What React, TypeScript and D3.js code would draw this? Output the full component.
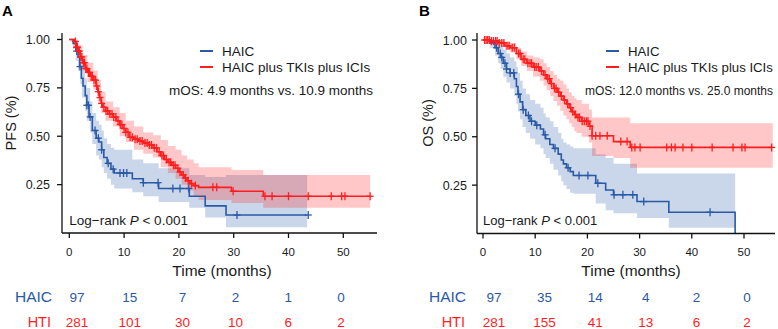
import * as d3 from 'd3';

// ── Kaplan–Meier steps: [time (months), survival] ──

const PFS_HAIC: [number, number][] = [
  [0, 1], [0.7, 0.98], [1.2, 0.94], [1.6, 0.91], [1.9, 0.86], [2.2, 0.8], [2.5, 0.76],
  [2.9, 0.71], [3.2, 0.66], [3.6, 0.6], [4.2, 0.53], [4.9, 0.49], [5.4, 0.47], [5.9, 0.43],
  [6.3, 0.39], [6.9, 0.36], [7.6, 0.33], [8.2, 0.31], [11.5, 0.28], [13.5, 0.26],
  [16.3, 0.23], [21.9, 0.19], [24.8, 0.14], [28.6, 0.093],
];
const PFS_HAIC_END = 43.4;
const PFS_HAIC_CENS = [
  1.35, 1.95, 3.2, 3.5, 3.8, 4.7, 5.3, 5.9, 7.1, 8.0, 9.25, 9.9, 10.5, 13.5, 16.2, 18.9,
  20.2, 21.8, 30.6, 43.6,
];
// [time, lower, upper]
const PFS_HAIC_CI: [number, number, number][] = [
  [0, 1, 1], [0.7, 0.95, 1], [1.2, 0.89, 0.99], [1.6, 0.84, 0.96], [2.0, 0.77, 0.92],
  [2.3, 0.7, 0.88], [2.9, 0.63, 0.8], [3.2, 0.58, 0.75], [3.8, 0.52, 0.68], [4.2, 0.46, 0.62],
  [4.9, 0.4, 0.58], [5.4, 0.38, 0.56], [5.9, 0.34, 0.53], [6.3, 0.31, 0.49], [6.9, 0.28, 0.46],
  [7.6, 0.25, 0.44], [8.2, 0.23, 0.43], [11.5, 0.21, 0.38], [13.5, 0.19, 0.36],
  [16.3, 0.16, 0.335], [21.9, 0.13, 0.3], [24.8, 0.08, 0.29], [28.6, 0.03, 0.3],
];

const PFS_HTI: [number, number][] = [
  [0, 1], [1.0, 0.99], [1.3, 0.96], [1.6, 0.94], [2.0, 0.91], [2.4, 0.88], [2.9, 0.85],
  [3.3, 0.83], [3.8, 0.81], [4.4, 0.79], [4.9, 0.76], [5.2, 0.73], [5.5, 0.7], [5.8, 0.67],
  [6.1, 0.65], [6.6, 0.63], [7.3, 0.615], [8.0, 0.6], [8.6, 0.58], [9.2, 0.56], [9.8, 0.54],
  [10.3, 0.52], [10.9, 0.495], [11.8, 0.485], [12.6, 0.475], [13.5, 0.465], [14.5, 0.455],
  [15.3, 0.44], [16.0, 0.42], [16.7, 0.4], [17.4, 0.38], [18.0, 0.365], [18.7, 0.35],
  [19.4, 0.335], [20.0, 0.315], [20.5, 0.3], [21.0, 0.285], [21.5, 0.27], [22.0, 0.255],
  [22.7, 0.245], [23.6, 0.236], [29.6, 0.216], [35.4, 0.19],
];
const PFS_HTI_END = 54.9;
const PFS_HTI_CENS = [
  1.1, 1.3, 1.5, 1.7, 1.8, 2.1, 2.3, 2.6, 2.8, 3.0, 3.2, 3.5, 3.7, 4.0, 4.2, 4.5, 4.8, 5.0,
  5.3, 5.6, 5.9, 6.3, 6.7, 7.0, 7.4, 7.8, 8.1, 8.5, 8.9, 9.3, 9.6, 10.0, 10.3, 10.7, 11.1,
  11.5, 12.0, 12.4, 12.9, 13.3, 13.8, 14.2, 14.6, 15.0, 15.5, 15.9, 16.4, 16.9, 17.2, 17.7,
  18.2, 18.5, 19.0, 19.3, 19.8, 20.2, 20.8, 21.2, 21.7, 22.3, 23.0, 26.2, 26.9, 29.9, 35.7,
  37.0, 40.0, 43.6, 47.8, 49.7, 50.3, 54.9,
];
const PFS_HTI_CI: [number, number, number][] = [
  [0, 1, 1], [1.0, 0.97, 1], [1.6, 0.91, 0.97], [2.4, 0.84, 0.92], [3.3, 0.78, 0.88],
  [4.4, 0.74, 0.84], [5.2, 0.68, 0.79], [5.8, 0.62, 0.73], [6.6, 0.58, 0.68], [8.0, 0.55, 0.65],
  [9.2, 0.5, 0.62], [10.3, 0.47, 0.58], [11.8, 0.43, 0.55], [13.5, 0.41, 0.52],
  [15.3, 0.39, 0.505], [16.7, 0.34, 0.48], [18.0, 0.31, 0.45], [19.4, 0.28, 0.43],
  [20.5, 0.25, 0.4], [21.5, 0.22, 0.38], [22.7, 0.19, 0.36], [23.6, 0.17, 0.34],
  [29.6, 0.155, 0.325], [35.4, 0.13, 0.3],
];

const OS_HAIC: [number, number][] = [
  [0, 1], [1.3, 0.985], [2.3, 0.96], [2.9, 0.93], [3.4, 0.91], [3.9, 0.88], [4.5, 0.85],
  [5.2, 0.83], [6.0, 0.8], [6.4, 0.76], [6.7, 0.72], [7.1, 0.68], [7.6, 0.64], [8.2, 0.61],
  [9.0, 0.58], [10.0, 0.56], [11.0, 0.54], [11.6, 0.51], [12.0, 0.49], [12.8, 0.46],
  [13.5, 0.44], [14.4, 0.41], [15.0, 0.38], [15.4, 0.36], [16.0, 0.34], [16.7, 0.32],
  [17.3, 0.3], [21.6, 0.26], [23.5, 0.225], [25.0, 0.2], [29.5, 0.165], [35.6, 0.11], [48.3, 0],
];
const OS_HAIC_END = 48.3;
const OS_HAIC_CENS = [
  2.6, 3.3, 3.6, 4.2, 4.5, 5.2, 5.9, 6.8, 7.7, 8.7, 9.3, 10.3, 11.9, 13.8, 16.3, 18.4, 20.1,
  22.0, 25.1, 26.8, 28.7, 30.8, 43.5,
];
const OS_HAIC_CI: [number, number, number][] = [
  [0, 1, 1], [1.3, 0.96, 1], [2.3, 0.92, 1], [2.9, 0.88, 0.98], [3.4, 0.85, 0.97],
  [3.9, 0.81, 0.95], [4.5, 0.78, 0.93], [5.2, 0.75, 0.91], [6.0, 0.71, 0.89], [6.4, 0.67, 0.86],
  [6.7, 0.63, 0.83], [7.1, 0.59, 0.79], [7.6, 0.55, 0.75], [8.2, 0.52, 0.72], [9.0, 0.49, 0.69],
  [10.0, 0.46, 0.67], [11.0, 0.44, 0.65], [11.6, 0.41, 0.62], [12.0, 0.39, 0.6],
  [12.8, 0.36, 0.58], [13.5, 0.33, 0.55], [14.4, 0.3, 0.52], [15.0, 0.27, 0.49],
  [15.4, 0.25, 0.47], [16.0, 0.23, 0.46], [16.7, 0.21, 0.45], [17.3, 0.205, 0.44],
  [21.6, 0.155, 0.41], [23.5, 0.12, 0.39], [25.0, 0.105, 0.36], [29.5, 0.08, 0.31],
  [35.6, 0.03, 0.31],
];

const OS_HTI: [number, number][] = [
  [0, 1], [1.5, 0.995], [3.0, 0.985], [4.2, 0.97], [5.2, 0.96], [6.4, 0.93], [7.3, 0.9],
  [8.4, 0.88], [9.6, 0.86], [10.9, 0.84], [11.6, 0.82], [12.2, 0.8], [12.9, 0.775],
  [13.5, 0.75], [14.2, 0.73], [14.8, 0.71], [15.4, 0.69], [16.0, 0.67], [16.5, 0.65],
  [17.0, 0.63], [17.5, 0.615], [17.9, 0.6], [18.9, 0.58], [20.3, 0.555], [20.9, 0.505],
  [25.0, 0.475], [28.2, 0.445],
];
const OS_HTI_END = 55.5;
const OS_HTI_CENS = [
  0.3, 0.6, 0.9, 1.2, 1.6, 2.0, 2.4, 2.7, 3.1, 3.6, 4.0, 4.6, 5.0, 5.6, 6.0, 6.8, 7.1, 7.7,
  8.0, 8.6, 9.0, 9.3, 9.9, 10.2, 10.6, 11.2, 11.9, 12.4, 12.7, 13.1, 13.7, 14.0, 14.5, 15.0,
  15.6, 16.2, 16.8, 17.2, 17.7, 18.2, 18.5, 19.0, 19.4, 19.8, 20.1, 20.5, 20.9, 21.6, 22.4,
  23.8, 26.4, 27.6, 28.5, 29.1, 30.1, 35.2, 36.1, 36.8, 38.3, 40.0, 43.9, 47.9, 49.6, 50.2,
  55.3,
];
const OS_HTI_CI: [number, number, number][] = [
  [0, 1, 1], [1.5, 0.985, 1], [3.0, 0.97, 1], [4.2, 0.95, 0.99], [5.2, 0.935, 0.985],
  [6.4, 0.9, 0.96], [7.3, 0.865, 0.94], [8.4, 0.84, 0.92], [9.6, 0.81, 0.91], [10.9, 0.79, 0.9],
  [11.6, 0.765, 0.88], [12.2, 0.74, 0.86], [12.9, 0.71, 0.84], [13.5, 0.685, 0.82],
  [14.2, 0.66, 0.8], [14.8, 0.635, 0.79], [15.4, 0.61, 0.77], [16.0, 0.59, 0.75],
  [16.5, 0.57, 0.73], [17.0, 0.55, 0.71], [17.5, 0.53, 0.7], [17.9, 0.52, 0.69],
  [18.9, 0.5, 0.67], [20.3, 0.47, 0.64], [20.9, 0.4, 0.6], [25.0, 0.39, 0.6], [28.2, 0.34, 0.57],
];

// ── Axis ticks and numbers at risk ──

const X_TICKS = [0, 10, 20, 30, 40, 50];
const Y_TICKS = [0.25, 0.5, 0.75, 1.0];
const PFS_RISK_HAIC = [97, 15, 7, 2, 1, 0];
const PFS_RISK_HTI = [281, 101, 30, 10, 6, 2];
const OS_RISK_HAIC = [97, 35, 14, 4, 2, 0];
const OS_RISK_HTI = [281, 155, 41, 13, 6, 2];

const BLUE = '#2a5aa6';
const RED = '#ff1e1e';
const INK = '#1a1a1a';
const FONT = "'Liberation Sans', Arial, sans-serif";

type Step = [number, number];
type Band = [number, number, number];

interface Curve {
  steps: Step[];
  end: number;
  cens: number[];
  ci: Band[];
  color: string;
  fill: string;
}

interface PanelProps {
  letter: string;
  letterX: number;
  yTitle: string;
  yTitleX: number;
  axisLeft: number;
  axisRight: number;
  xRange: [number, number];
  yRange: [number, number];
  riskRange: [number, number];
  yTickEnd: number;
  legendX: number;
  legendSize: number;
  mosText: string;
  mosX: number;
  mosSize: number;
  logrankSize: number;
  riskLabelX: number;
  titleX: number;
  curves: Curve[];
  riskHaic: number[];
  riskHti: number[];
}

function survAt(steps: Step[], t: number): number {
  let s = 1;
  for (const [tt, v] of steps) if (tt <= t) s = v;
  return s;
}

function Panel(p: PanelProps) {
  const x = d3.scaleLinear().domain([0, 50]).range(p.xRange);
  const y = d3.scaleLinear().domain([0, 1]).range(p.yRange);
  const rx = d3.scaleLinear().domain([0, 50]).range(p.riskRange);
  const yBottom = y(0);

  const line = d3
    .line<Step>()
    .x((d) => x(d[0]))
    .y((d) => y(d[1]))
    .curve(d3.curveStepAfter);
  const area = d3
    .area<Band>()
    .x((d) => x(d[0]))
    .y0((d) => y(d[1]))
    .y1((d) => y(d[2]))
    .curve(d3.curveStepAfter);

  return (
    <g fontFamily={FONT}>
      <text x={p.letterX} y={16} fontSize={15} fontWeight="bold">
        {p.letter}
      </text>

      {/* confidence bands */}
      {p.curves.map((c, i) => {
        const last = c.ci[c.ci.length - 1];
        const rows: Band[] = [...c.ci, [c.end, last[1], last[2]]];
        return <path key={'ci' + i} d={area(rows) ?? ''} fill={c.fill} stroke="none" />;
      })}

      {/* survival curves */}
      {p.curves.map((c, i) => {
        const last = c.steps[c.steps.length - 1];
        const pts: Step[] = [...c.steps, [c.end, last[1]]];
        return (
          <path key={'ln' + i} d={line(pts) ?? ''} fill="none" stroke={c.color} strokeWidth={1.6} />
        );
      })}

      {/* censor marks */}
      {p.curves.map((c, i) => (
        <g key={'cs' + i} stroke={c.color} strokeWidth={1.3}>
          {c.cens.map((t, j) => {
            const cx = x(t);
            const cy = y(survAt(c.steps, t));
            return (
              <g key={j}>
                <line x1={cx} x2={cx} y1={cy - 4} y2={cy + 4} />
                <line x1={cx - 3.5} x2={cx + 3.5} y1={cy} y2={cy} />
              </g>
            );
          })}
        </g>
      ))}

      {/* axes */}
      <g stroke="#111" strokeWidth={1.3} fill="none">
        <line x1={p.axisLeft} x2={p.axisLeft} y1={33} y2={yBottom} />
        <line x1={p.axisLeft} x2={p.axisRight} y1={yBottom} y2={yBottom} />
        {Y_TICKS.map((v) => (
          <line key={v} x1={p.axisLeft - 5} x2={p.axisLeft} y1={y(v)} y2={y(v)} />
        ))}
        {X_TICKS.map((v) => (
          <line key={v} x1={x(v)} x2={x(v)} y1={yBottom} y2={yBottom + 5} />
        ))}
      </g>
      {Y_TICKS.map((v) => (
        <text key={v} x={p.yTickEnd} y={y(v) + 4.5} textAnchor="end" fontSize={12.5} fill={INK}>
          {v.toFixed(2)}
        </text>
      ))}
      {X_TICKS.map((v) => (
        <text key={v} x={x(v)} y={256} textAnchor="middle" fontSize={11.5} fill={INK}>
          {v}
        </text>
      ))}
      <text
        transform={`translate(${p.yTitleX},123) rotate(-90)`}
        textAnchor="middle"
        fontSize={14.5}
        fill={INK}
      >
        {p.yTitle}
      </text>
      <text x={p.titleX} y={276} textAnchor="middle" fontSize={15.5} fill={INK}>
        Time (months)
      </text>

      {/* legend */}
      {[
        { label: 'HAIC', color: BLUE, yy: 51 },
        { label: 'HAIC plus TKIs plus ICIs', color: RED, yy: 67 },
      ].map((l) => (
        <g key={l.label}>
          <line x1={p.legendX - 22} x2={p.legendX - 9} y1={l.yy} y2={l.yy} stroke={l.color} strokeWidth={2} />
          <text x={p.legendX} y={l.yy + 4.5} fontSize={p.legendSize} fill={INK}>
            {l.label}
          </text>
        </g>
      ))}
      <text x={p.mosX} y={95} textAnchor="end" fontSize={p.mosSize} fill={INK}>
        {p.mosText}
      </text>
      <text x={x(0)} y={225} fontSize={p.logrankSize} fill={INK}>
        Log−rank <tspan fontStyle="italic">P</tspan> &lt; 0.001
      </text>

      {/* numbers at risk */}
      <text x={p.riskLabelX} y={302} textAnchor="end" fontSize={15.5} fill={BLUE}>
        HAIC
      </text>
      <text x={p.riskLabelX - 1} y={327} textAnchor="end" fontSize={14.5} fill={RED}>
        HTI
      </text>
      {p.riskHaic.map((n, i) => (
        <text key={'h' + i} x={rx(X_TICKS[i])} y={302} textAnchor="middle" fontSize={13.5} fill={BLUE}>
          {n}
        </text>
      ))}
      {p.riskHti.map((n, i) => (
        <text key={'t' + i} x={rx(X_TICKS[i])} y={327} textAnchor="middle" fontSize={13.5} fill={RED}>
          {n}
        </text>
      ))}
    </g>
  );
}

const BLUE_FILL = 'rgba(42,90,166,0.25)';
const RED_FILL = 'rgba(255,30,30,0.25)';

export default function App() {
  return (
    <div style={{ position: 'fixed', left: 0, top: 0 }}>
      <svg width={778} height={329} style={{ display: 'block', background: '#fff' }}>
        <Panel
          letter="A"
          letterX={2}
          yTitle="PFS (%)"
          yTitleX={16}
          axisLeft={62}
          axisRight={377}
          xRange={[69.3, 343.3]}
          yRange={[233, 39.5]}
          riskRange={[77, 341]}
          yTickEnd={50}
          legendX={222}
          legendSize={13.5}
          mosText="mOS: 4.9 months vs. 10.9 months"
          mosX={373}
          mosSize={13.5}
          logrankSize={13.5}
          riskLabelX={52}
          titleX={222}
          curves={[
            { steps: PFS_HAIC, end: PFS_HAIC_END, cens: PFS_HAIC_CENS, ci: PFS_HAIC_CI, color: BLUE, fill: BLUE_FILL },
            { steps: PFS_HTI, end: PFS_HTI_END, cens: PFS_HTI_CENS, ci: PFS_HTI_CI, color: RED, fill: RED_FILL },
          ]}
          riskHaic={PFS_RISK_HAIC}
          riskHti={PFS_RISK_HTI}
        />
        <Panel
          letter="B"
          letterX={419}
          yTitle="OS (%)"
          yTitleX={433}
          axisLeft={477}
          axisRight={775}
          xRange={[483, 744]}
          yRange={[233.5, 40]}
          riskRange={[494, 747]}
          yTickEnd={467}
          legendX={628}
          legendSize={13.2}
          mosText="mOS: 12.0 months vs. 25.0 months"
          mosX={773}
          mosSize={12}
          logrankSize={13}
          riskLabelX={466}
          titleX={631}
          curves={[
            { steps: OS_HAIC, end: OS_HAIC_END, cens: OS_HAIC_CENS, ci: OS_HAIC_CI, color: BLUE, fill: BLUE_FILL },
            { steps: OS_HTI, end: OS_HTI_END, cens: OS_HTI_CENS, ci: OS_HTI_CI, color: RED, fill: RED_FILL },
          ]}
          riskHaic={OS_RISK_HAIC}
          riskHti={OS_RISK_HTI}
        />
      </svg>
    </div>
  );
}
